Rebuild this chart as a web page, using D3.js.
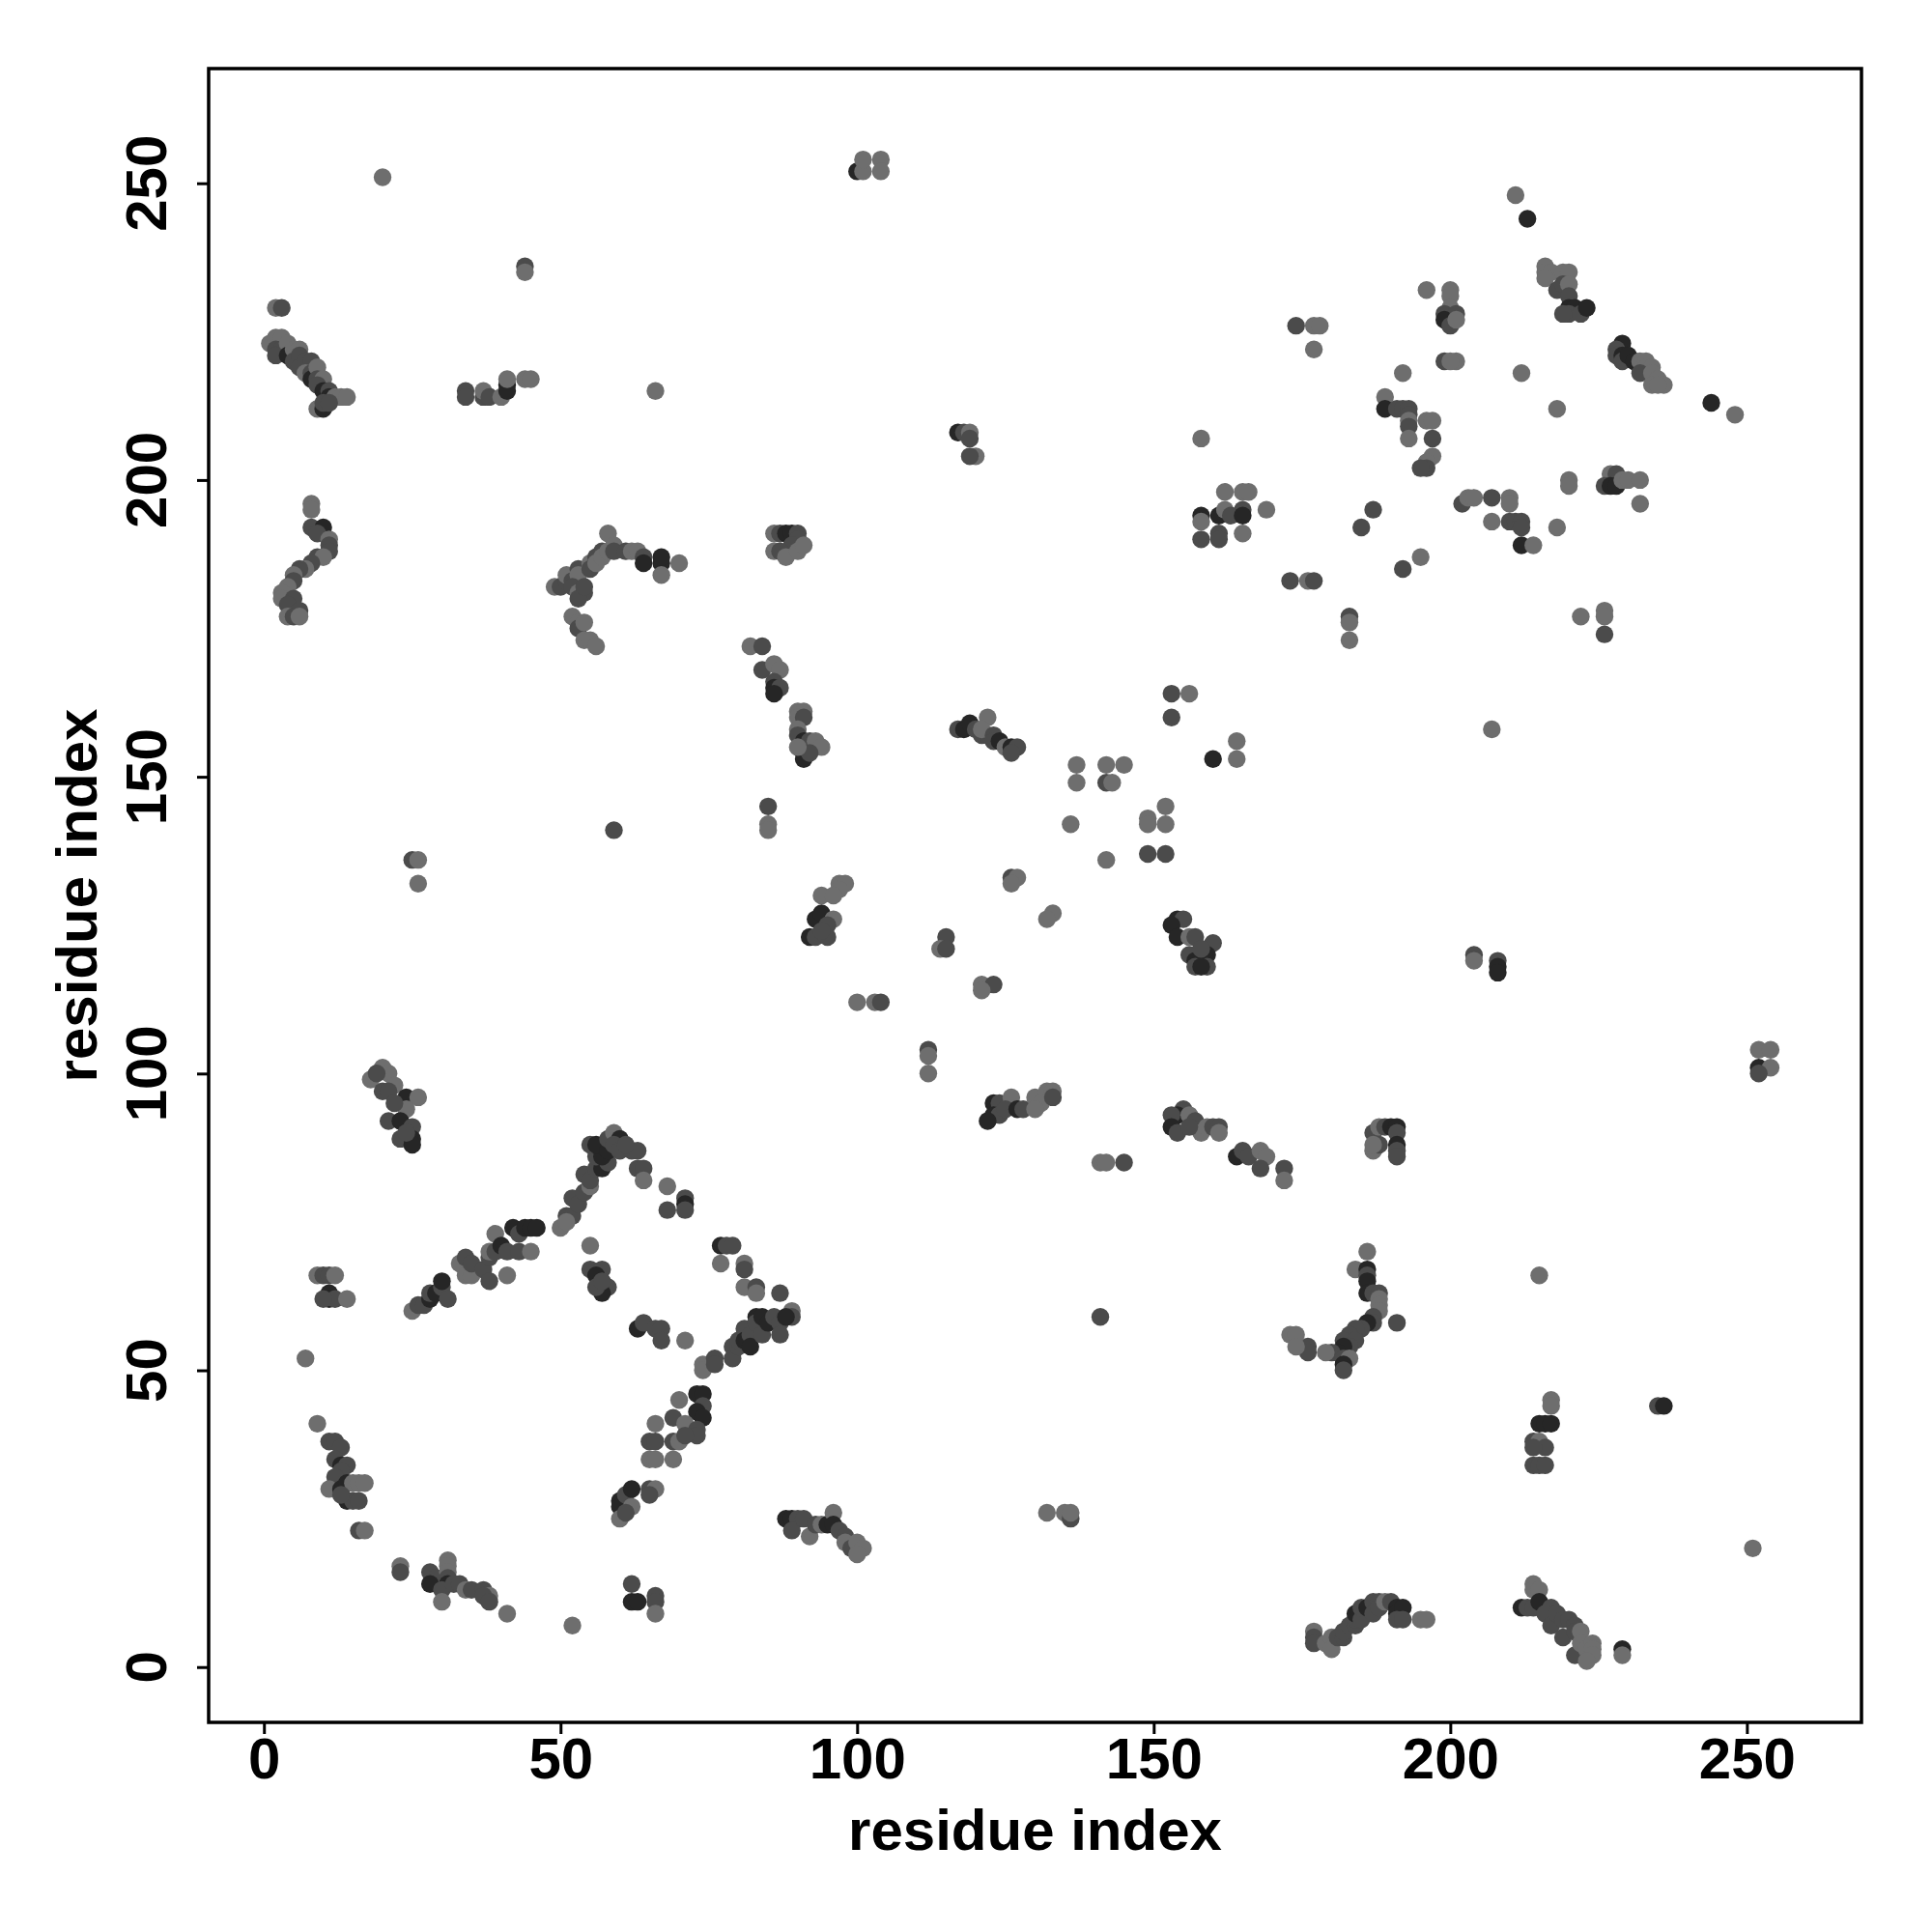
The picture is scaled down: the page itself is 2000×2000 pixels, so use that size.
<!DOCTYPE html>
<html>
<head>
<meta charset="utf-8">
<script src="https://cdn.jsdelivr.net/npm/d3@7"></script>
<style>
  html, body { margin: 0; padding: 0; background: #ffffff; }
  svg { display: block; }
  text { font-family: "Liberation Sans", Arial, sans-serif; font-weight: bold; fill: #000; }
</style>
</head>
<body>
<svg id="chart" width="2000" height="2000"></svg>
<script>
// ---------------- data: contacts [residue i, residue j, strength level 1..3] ----------------
const xTicks = [0, 50, 100, 150, 200, 250];
const yTicks = [0, 50, 100, 150, 200, 250];
const tickLabels = ["0", "50", "100", "150", "200", "250"];
const xTitle = "residue index";
const yTitle = "residue index";
const axisDomain = [-9.32, 269.32];

const contactsTopLeft = [
  [20,251,1],[44,236,2],[44,235,1],[2,229,1],[3,229,2],
  [1,223,1],[2,224,1],[3,224,1],[2,222,2],[3,222,2],[2,221,2],[4,223,1],[4,221,3],[5,222,1],[5,220,2],
  [6,222,1],[6,221,2],[6,219,2],[7,220,2],[8,220,2],[7,218,1],[8,218,2],[8,217,3],[9,219,1],[9,217,2],
  [10,217,1],[9,216,2],[10,215,3],[11,215,2],[11,214,3],[12,214,1],[13,214,1],[14,214,1],[9,212,1],
  [10,212,3],[10,213,2],[11,213,2],
  [34,215,2],[34,214,2],[37,214,2],[37,215,1],[38,214,2],[40,214,1],[41,216,3],[41,215,3],[41,217,1],
  [44,217,1],[45,217,1],[66,215,1],
  [8,196,1],[8,195,1],[8,192,2],[10,192,3],[9,191,2],[11,190,1],[11,189,2],[11,188,2],[9,187,2],[10,187,1],
  [8,186,2],[7,185,1],[6,185,2],[5,184,1],[5,183,2],[4,182,1],[3,181,1],[3,180,1],[5,180,2],[4,179,2],
  [6,178,2],[4,177,1],[5,177,2],[6,177,1],
  [49,182,1],[50,182,2],[51,183,2],[51,184,1],[52,183,2],[53,185,2],[53,184,1],[52,182,2],[53,181,1],
  [54,181,2],[53,180,2],[54,182,2],[55,186,1],[55,185,2],[56,187,2],[56,186,1],[57,188,2],[57,187,1],
  [58,188,1],[58,191,1],[59,189,1],[59,188,2],[61,188,2],[62,188,1],[63,188,1],[64,187,2],[64,186,3],
  [67,186,3],[67,187,3],[67,184,1],[70,186,1],[52,177,1],[53,176,1],[53,175,2],[54,176,1],[54,173,1],
  [55,173,1],[56,172,1]
];

const contactsTopMid = [
  [117,208,3],[118,208,2],[119,208,1],[119,207,2],[120,204,1],[119,204,2],
  [100,252,3],[101,252,1],[101,254,1],[104,254,1],[104,252,1],
  [86,191,1],[87,191,2],[88,191,3],[89,191,3],[90,191,2],[90,190,2],[89,189,2],[86,188,1],[87,188,2],
  [88,187,1],[90,188,1],[91,189,1],
  [82,172,1],[84,172,2],[84,168,2],[86,169,1],[87,168,1],[86,166,2],[86,165,3],[87,165,2],[86,164,3],
  [90,161,1],[91,161,1],[90,160,1],[91,160,2],[90,158,1],[90,157,2],[91,156,3],[92,156,2],[93,156,1],
  [94,155,1],[91,154,3],[91,153,3],[92,154,2],[90,155,1],
  [117,158,2],[118,158,3],[119,159,3],[120,158,2],[121,157,2],[122,160,1],[122,157,2],[121,158,1],
  [123,157,2],[123,156,2],[124,156,3],[125,155,1],[126,155,3],[127,155,2],[126,154,2]
];

const contactsMiddle = [
  [85,145,2],[85,142,1],[85,141,1],[59,141,2],[25,136,2],[26,136,1],[26,132,1],
  [97,132,1],[98,132,1],[97,131,1],[94,130,1],[96,130,1],[93,126,3],[94,127,3],[96,126,1],[95,125,2],
  [92,123,3],[93,123,2],[95,123,2],[94,124,2],
  [126,133,2],[127,133,1],[126,132,1],[133,127,1],[132,126,1],
  [115,123,2],[114,121,1],[115,121,2],[121,115,1],[123,115,2],[121,114,1],
  [100,112,1],[103,112,1],[104,112,2],[112,104,2],[112,103,1],[112,100,1],
  [123,95,3],[124,95,2],[123,93,3],[124,93,2],[122,92,3],[126,96,1],[125,94,2],[127,94,3],[128,94,2],
  [130,96,1],[132,97,1],[131,95,1],[130,94,1],[133,97,1],[133,96,2],
  [137,152,1],[137,149,1],[142,152,1],[145,152,1],[142,149,2],[143,149,1],
  [153,164,2],[156,164,1],[153,160,2],[160,153,3],[164,156,1],[164,153,1],
  [136,142,1],[149,143,1],[149,142,1],[152,145,1],[152,142,1],[149,137,2],[152,137,2],[142,136,1],
  [154,126,3],[155,126,2],[153,125,3],[154,123,3],[156,123,1],[157,123,2],[160,122,2],[159,120,3],
  [156,120,2],[157,119,3],[157,118,2],[159,118,2],[158,118,3],[158,121,2],
  [155,94,2],[154,93,3],[153,93,2],[153,91,3],[156,93,1],[157,92,2],[154,90,2],[158,90,1],[159,91,1],
  [160,91,2],[161,91,2],[161,90,1],[156,91,2],
  [164,86,3],[165,87,2],[166,86,2],[168,87,1],[169,86,1],[168,84,2],[172,84,2],[172,82,1],
  [141,85,1],[142,85,1],[145,85,2],
  [187,90,2],[188,91,1],[189,91,2],[190,91,3],[191,91,3],[191,90,2],[191,88,3],[191,87,2],[191,86,2],
  [187,87,1],[188,88,2],[187,88,1],
  [204,120,2],[204,119,1],[208,119,2],[208,118,3],[208,117,3],[207,158,1],
  [252,104,1],[254,104,1],[252,101,3],[254,101,1],[252,100,2],
  [20,101,1],[21,100,1],[18,99,1],[19,100,2],[22,98,1],[20,97,2],[21,97,2],[24,96,3],[26,96,1],
  [24,94,1],[22,95,2],[21,92,2],[23,92,3],[25,91,2],[23,89,2],[25,89,3],[25,88,3],[24,90,2]
];

const contactsTopRight = [
  [158,207,1],[174,226,2],[177,226,1],[178,226,1],[177,222,1],[192,218,1],
  [189,214,1],[189,212,3],[191,212,2],[192,212,2],[193,212,2],[193,211,2],[193,210,1],[193,209,2],
  [196,210,1],[197,210,1],[193,207,1],[197,207,2],[197,204,1],[196,203,1],[196,202,2],[195,202,2],
  [196,232,1],[200,232,1],[200,231,1],[200,229,1],[199,228,2],[201,228,2],[199,227,3],[200,226,2],
  [201,227,1],[199,220,2],[201,220,1],[200,220,1],
  [162,198,1],[165,198,1],[166,198,1],[158,194,3],[158,193,1],[161,194,3],[162,195,1],[163,194,2],
  [165,195,2],[165,194,3],[169,195,1],[158,190,2],[161,191,2],[161,190,2],[165,191,1],
  [187,195,2],[185,192,2],[195,187,1],[192,185,2],[173,183,2],[176,183,1],[177,183,2],
  [183,177,2],[183,176,1],[183,173,1],
  [216,236,1],[216,235,1],[217,235,1],[216,234,1],[219,235,1],[220,235,1],[218,232,2],[219,233,2],
  [220,233,1],[220,231,2],[220,229,3],[221,229,3],[220,228,2],[222,228,2],[223,229,3],[219,228,2],
  [229,223,3],[228,222,2],[228,221,2],[229,221,3],[229,220,2],[230,221,3],[231,220,3],[232,220,1],
  [233,220,1],[233,219,1],[234,219,1],[232,218,2],[234,218,1],[235,217,1],[236,216,1],[234,216,1],
  [235,216,1],
  [244,213,3],[248,211,1],[212,218,1],[218,212,1],[211,248,1],[213,244,3],
  [220,200,1],[220,199,1],[227,201,1],[228,201,2],[226,199,2],[227,199,3],[228,199,3],[229,200,1],
  [230,200,1],[232,200,1],[232,196,1],
  [202,196,2],[203,197,1],[204,197,1],[207,197,2],[210,197,1],[210,196,1],[207,193,1],[210,193,2],
  [211,193,2],[212,193,2],[212,192,2],[212,189,3],[214,189,1],[218,192,1],
  [222,177,1],[226,178,1],[226,177,1],[226,174,2]
];

const contactsBottomLeft = [
  [9,66,1],[10,66,2],[11,66,2],[12,66,1],[11,63,3],[11,62,3],[12,62,2],[14,62,1],[10,62,2],
  [7,52,1],[9,41,1],
  [11,38,2],[12,38,2],[13,37,2],[12,35,2],[13,34,3],[14,34,2],[13,33,2],[12,32,2],[11,30,1],[13,30,3],
  [14,31,3],[15,31,1],[16,31,1],[17,31,1],[14,28,3],[15,28,2],[16,28,2],[13,29,2],
  [16,23,2],[17,23,1],[23,17,1],[23,16,2],
  [28,16,2],[29,15,2],[28,14,3],[31,18,1],[31,17,1],[31,16,1],[31,15,2],[31,14,3],[30,13,2],[30,11,1],
  [32,14,2],[33,14,2],[34,13,1],[35,13,2],[37,13,2],[38,12,1],[37,12,2],[38,11,2],
  [41,9,1],[52,7,1],
  [25,60,1],[26,61,2],[27,61,2],[28,62,3],[28,63,2],[29,63,3],[30,64,2],[30,65,3],[31,62,2],[33,68,1],
  [34,69,2],[34,66,1],[35,66,1],[35,68,2],[37,67,2],[38,65,2],[38,69,2],[38,70,1],[39,70,2],[39,73,1],
  [40,71,3],[41,66,1],[41,70,2],[42,74,3],[43,73,2],[43,70,2],[45,70,1],[44,74,3],[45,74,3],[46,74,3],
  [50,74,1],[51,76,2],[52,76,2],[51,75,1],[52,79,2],[53,78,2],[54,80,2],[55,81,1],[54,83,2],[55,82,2],
  [56,84,2],[57,84,3],[58,85,2],[56,86,2],[57,86,3],[55,88,2],[56,88,3],[58,87,3],[58,89,2],[59,90,1],
  [60,89,3],[59,88,2],[60,87,2],[62,87,2],[63,87,2],[61,88,2],
  [63,84,2],[64,84,2],[64,82,1],[68,81,1],[68,77,2],[71,79,2],[71,78,3],[71,77,2],
  [55,71,1],[55,67,2],[57,67,2],[56,66,3],[58,64,2],[57,63,3],[56,64,2],[57,65,2],
  [60,28,3],[60,27,3],[61,29,2],[62,30,3],[62,27,1],[65,30,2],[66,30,1],[65,29,2],[60,25,1],[61,26,2],
  [62,14,2],[62,11,3],[63,11,3],[66,12,2],[66,11,2],[66,9,1],
  [63,57,3],[64,58,2],[66,57,2],[67,57,2],[67,55,2],[71,55,1],
  [74,51,1],[74,50,1],[76,52,2],[76,51,2],
  [77,71,3],[78,71,2],[79,71,2],[77,68,1],[81,68,1],[81,67,2],[81,64,1],[83,64,2],[83,63,1],[87,63,2],
  [79,54,2],[79,52,2],[80,54,2],[80,55,2],[81,57,2],[81,55,3],[82,56,2],[82,54,3],[83,59,3],[83,58,2],
  [84,59,3],[84,56,2],[85,58,3],[86,59,2],[87,58,2],[87,56,2],[89,60,1],[89,59,2],[88,59,3],
  [70,45,1],[73,46,3],[74,46,3],[74,44,2],[73,43,3],[74,42,3],[66,41,1],[69,42,2],[71,41,1],[73,40,2],
  [73,39,2],[65,38,2],[66,38,2],[69,38,2],[70,38,1],[71,39,2],[65,35,1],[66,35,1],[69,35,1],
  [88,25,3],[89,25,3],[90,25,2],[89,23,2],[91,25,2],[92,22,1],[93,24,2],[94,24,1],[95,24,3],[96,26,1],
  [96,24,3],[97,23,2],[98,22,2],[98,21,1],[99,20,2],[100,21,1],[101,20,1],[100,19,1]
];

const contactsBottomRight = [
  [141,59,2],[132,26,1],[135,26,1],[136,25,2],[136,26,1],
  [186,70,1],[184,67,1],[186,67,3],[186,66,2],[186,65,3],[186,63,3],[187,63,2],[188,63,2],[188,62,1],
  [188,61,1],[188,60,1],[187,59,2],[191,58,2],[187,58,2],[186,58,3],[185,57,2],[184,57,2],[183,56,2],
  [182,55,2],[184,55,2],[183,54,2],[182,54,3],[181,53,3],[180,53,2],[182,52,2],[183,52,1],[182,51,3],
  [182,50,2],[179,53,1],[176,54,2],[176,53,2],[173,56,1],[174,56,1],[174,54,1],
  [177,6,1],[177,5,2],[177,4,2],[179,4,1],[180,5,1],[180,3,1],[181,5,2],[182,5,2],[182,6,2],[183,7,2],
  [184,7,2],[184,8,2],[184,9,3],[185,8,2],[185,10,2],[186,10,3],[187,11,2],[187,9,2],[188,11,2],
  [188,10,2],[189,11,1],[190,11,2],[191,10,3],[191,9,3],[192,10,3],[191,8,2],[192,8,2],[195,8,1],[196,8,1],
  [215,66,1],[217,45,1],[217,44,1],[215,41,3],[216,41,3],[217,41,3],[214,38,2],[215,38,1],[216,37,2],
  [214,37,2],[214,34,2],[215,34,2],[216,34,2],[235,44,2],[236,44,3],[251,20,1],
  [214,14,1],[214,13,1],[215,13,1],[212,10,3],[213,10,2],[214,10,2],[215,11,3],[217,10,2],[216,9,2],
  [217,7,2],[218,9,2],[219,5,2],[219,8,2],[220,8,2],[221,7,2],[221,6,2],[221,2,2],[222,6,1],[222,4,1],
  [223,3,1],[224,4,1],[224,3,1],[224,2,1],[223,1,1],[229,3,3],[229,2,1]
];

const levelGrays = ["#6e6e6e", "#4b4b4b", "#262626"];

// ---------------- drawing ----------------
const contacts = [].concat(contactsTopLeft, contactsTopMid, contactsMiddle,
                           contactsTopRight, contactsBottomLeft, contactsBottomRight)
  .map(d => ({ i: d[0], j: d[1], level: d[2] }));

const svg = d3.select("#chart");
svg.append("rect").attr("width", 2000).attr("height", 2000).attr("fill", "#fff");

const plot = { left: 216, right: 1927, top: 71, bottom: 1783 };
const x = d3.scaleLinear().domain(axisDomain).range([plot.left, plot.right]);
const y = d3.scaleLinear().domain(axisDomain).range([plot.bottom, plot.top]);
const color = d3.scaleOrdinal().domain([1, 2, 3]).range(levelGrays);

svg.append("g")
  .selectAll("circle")
  .data(contacts)
  .join("circle")
  .attr("cx", d => x(d.i))
  .attr("cy", d => y(d.j))
  .attr("r", 9.2)
  .attr("fill", d => color(d.level));

// frame
svg.append("rect")
  .attr("x", plot.left).attr("y", plot.top)
  .attr("width", plot.right - plot.left).attr("height", plot.bottom - plot.top)
  .attr("fill", "none").attr("stroke", "#000").attr("stroke-width", 3.5);

// x axis
const xAxis = d3.axisBottom(x).tickValues(xTicks).tickSize(12).tickPadding(3)
  .tickFormat((d, k) => tickLabels[k]);
const gx = svg.append("g").attr("transform", `translate(0,${plot.bottom})`).call(xAxis);
gx.select(".domain").remove();
gx.selectAll(".tick line").attr("stroke", "#000").attr("stroke-width", 3);
gx.selectAll(".tick text").attr("font-size", 60)
  .attr("font-family", "'Liberation Sans', Arial, sans-serif").attr("font-weight", "bold").attr("fill", "#000");

// y axis (ticks via axis, labels rotated)
const yAxis = d3.axisLeft(y).tickValues(yTicks).tickSize(12).tickFormat("");
const gy = svg.append("g").attr("transform", `translate(${plot.left},0)`).call(yAxis);
gy.select(".domain").remove();
gy.selectAll(".tick line").attr("stroke", "#000").attr("stroke-width", 3);

svg.append("g").selectAll("text")
  .data(yTicks)
  .join("text")
  .attr("transform", (d) => `translate(172,${y(d)}) rotate(-90)`)
  .attr("text-anchor", "middle")
  .attr("font-size", 60)
  .text((d, k) => tickLabels[k]);

// titles
svg.append("text")
  .attr("x", (plot.left + plot.right) / 2).attr("y", 1915)
  .attr("text-anchor", "middle").attr("font-size", 60)
  .text(xTitle);
svg.append("text")
  .attr("transform", `translate(100,${(plot.top + plot.bottom) / 2}) rotate(-90)`)
  .attr("text-anchor", "middle").attr("font-size", 60)
  .text(yTitle);
</script>
</body>
</html>
